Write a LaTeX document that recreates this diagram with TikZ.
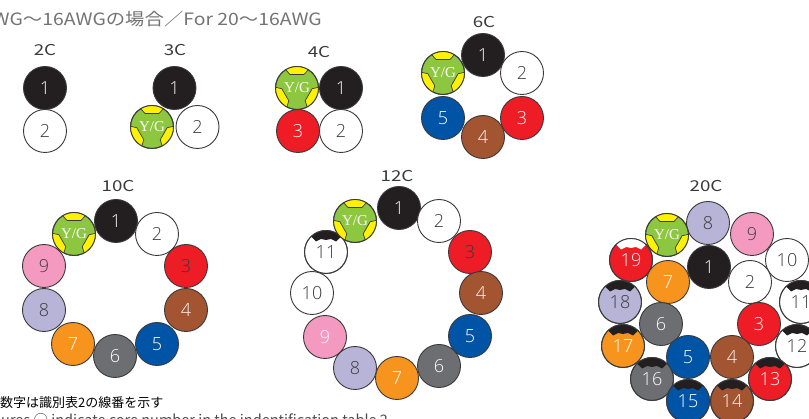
\documentclass[tikz,border=0pt]{standalone}
\usepackage{fontspec}
\setmainfont{Open Sans}
\newfontfamily\cjkfont{Noto Sans CJK JP}
\newfontfamily\headfont{Noto Sans CJK JP}[FakeStretch=1.25]
\newfontfamily\titlefont{Noto Sans CJK JP}[FakeStretch=1.14]
\newfontfamily\ygfont{Liberation Serif}
\newfontfamily\numfont{Open Sans Light}
\definecolor{cblack}{HTML}{231F20}
\definecolor{cred}{HTML}{EE1C25}
\definecolor{cblue}{HTML}{0054A6}
\definecolor{cbrown}{HTML}{A35430}
\definecolor{cgray}{HTML}{6D6E71}
\definecolor{corange}{HTML}{F7941D}
\definecolor{cviolet}{HTML}{B7B4D8}
\definecolor{cpink}{HTML}{F49AC1}
\definecolor{cgreen}{HTML}{8DC63F}
\definecolor{cyellow}{HTML}{FFF200}
\definecolor{cline}{HTML}{3A3A3C}
\tikzset{
  x=1pt,y=-1pt,
  corebody/.style={circle,draw=cline,line width=0.9pt,inner sep=0pt,minimum size=43pt},
  corenum/.style={inner sep=0pt,font=\numfont\fontsize{18}{18}\selectfont},
  yglabel/.style={inner sep=0pt,text=white,font=\ygfont\fontsize{15}{15}\selectfont},
  headlabel/.style={inner sep=0pt,text=cline,font=\headfont\fontsize{15}{15}\selectfont},
}
% name, x, y, fill, text colour, label
\newcommand{\core}[6]{%
  \node[corebody,fill=#4] (#1) at (#2,#3) {};
  \node[corenum,text=#5] at (#1) {#6};}
% name, x, y, fill, text colour, label, mark colour
\newcommand{\markedcore}[7]{%
  \node[corebody,fill=#4] (#1) at (#2,#3) {};
  \begin{scope}
    \clip (#1) circle (21.5);
    \begin{scope}[shift={(#1)}]
      \fill[#7] (-18,-24) -- (-16,-16.5) -- (-10,-10.5) -- (-5,-13) -- (0,-12) -- (5,-13) -- (10,-10.5) -- (16,-16.5) -- (18,-24) -- cycle;
    \end{scope}
  \end{scope}
  \draw[cline,line width=0.9pt] (#1) circle (21.5);
  \node[corenum,text=#5] at (#1) {#6};}
% name, x, y
\newcommand{\ygcore}[3]{%
  \node[corebody,fill=cgreen] (#1) at (#2,#3) {};
  \begin{scope}
    \clip (#1) circle (21.5);
    \foreach \ang in {0,120,240}{
      \begin{scope}[shift={(#1)},rotate=\ang]
        \filldraw[fill=cyellow,draw=cline,line width=0.7pt] (-13,-24) -- (-11.5,-18.5) -- (-7,-13.5) -- (7,-13.5) -- (11.5,-18.5) -- (13,-24) -- cycle;
      \end{scope}}
  \end{scope}
  \draw[cline,line width=0.9pt] (#1) circle (21.5);
  \node[yglabel] at (#1) {Y/G};}
\begin{document}
\begin{tikzpicture}
\useasboundingbox (0,0) rectangle (809,419);
\node[anchor=east,inner sep=0pt,text=black!55,font=\titlefont\fontsize{17}{17}\selectfont] (title) at (322,19) {AWG～16AWGの場合／For 20～16AWG};
% 2C
\node[headlabel] (h2) at (45,50) {2C};
\core{a1}{45}{88}{cblack}{white}{1}
\core{a2}{45}{131}{white}{cline}{2}
% 3C
\node[headlabel] (h3) at (175,50) {3C};
\core{b1}{174.5}{88}{cblack}{white}{1}
\ygcore{by}{152}{127}
\core{b2}{197.5}{127}{white}{cline}{2}
% 4C
\node[headlabel] (h4) at (319,52) {4C};
\ygcore{cy}{297}{88}
\core{c1}{341}{88}{cblack}{white}{1}
\core{c3}{298}{131}{cred}{white}{3}
\core{c2}{341}{131}{white}{cline}{2}
% 6C
\node[headlabel] (h6) at (484,22) {6C};
\core{d1}{483}{55}{cblack}{white}{1}
\core{d2}{522}{73}{white}{cline}{2}
\core{d3}{522}{118}{cred}{white}{3}
\core{d4}{483}{137}{cbrown}{white}{4}
\core{d5}{443}{118}{cblue}{white}{5}
\ygcore{dy}{443}{73}
% 10C
\node[headlabel] (h10) at (118,186) {10C};
\core{e1}{116}{221}{cblack}{white}{1}
\core{e2}{157}{234}{white}{cline}{2}
\core{e3}{186}{266}{cred}{cline}{3}
\core{e4}{186}{310}{cbrown}{white}{4}
\core{e5}{157}{344}{cblue}{white}{5}
\core{e6}{115}{356}{cgray}{white}{6}
\core{e7}{73}{344}{corange}{white}{7}
\core{e8}{44}{310}{cviolet}{cline}{8}
\core{e9}{44}{266}{cpink}{cline}{9}
\ygcore{ey}{74}{234}
% 12C
\node[headlabel] (h12) at (397,176) {12C};
\core{f1}{399}{208}{cblack}{white}{1}
\core{f2}{439}{221}{white}{cline}{2}
\core{f3}{470}{252}{cred}{cline}{3}
\core{f4}{481}{293}{cbrown}{white}{4}
\core{f5}{470}{336}{cblue}{white}{5}
\core{f6}{439}{366}{cgray}{white}{6}
\core{f7}{397}{378}{corange}{white}{7}
\core{f8}{355}{368}{cviolet}{cline}{8}
\core{f9}{325}{337}{cpink}{white}{9}
\core{f10}{312}{293}{white}{cline}{10}
\markedcore{f11}{326}{252}{white}{cline}{11}{cblack}
\ygcore{fy}{355}{221}
% 20C
\node[headlabel] (h20) at (706,186) {20C};
\core{g8}{708}{223}{cviolet}{cline}{8}
\core{g9}{752}{234}{cpink}{cline}{9}
\ygcore{gy}{667}{235}
\markedcore{g19}{631}{260}{cred}{white}{19}{white}
\core{g10}{787}{260}{white}{cline}{10}
\core{g1}{709}{267}{cblack}{white}{1}
\core{g2}{750}{282}{white}{cline}{2}
\core{g7}{668}{282}{corange}{white}{7}
\markedcore{g18}{620}{302}{cviolet}{cline}{18}{cblack}
\markedcore{g11}{801}{302}{white}{cline}{11}{cblack}
\core{g3}{759}{324}{cred}{white}{3}
\core{g6}{661}{324}{cgray}{white}{6}
\markedcore{g17}{623}{346}{corange}{white}{17}{cblack}
\markedcore{g12}{797}{346}{white}{cline}{12}{cblack}
\core{g5}{688}{357}{cblue}{white}{5}
\core{g4}{732}{357}{cbrown}{white}{4}
\markedcore{g16}{652}{379}{cgray}{white}{16}{cblack}
\markedcore{g13}{770}{379}{cred}{white}{13}{cblack}
\markedcore{g15}{688}{401}{cblue}{white}{15}{cblack}
\markedcore{g14}{732}{401}{cbrown}{white}{14}{cblack}
% notes
\node[anchor=west,inner sep=0pt,text=black,font=\cjkfont\fontsize{13}{13}\selectfont] (noteja) at (0,403) {数字は識別表2の線番を示す};
\node[anchor=base west,inner sep=0pt,text=black!70,font=\cjkfont\fontsize{14.5}{14.5}\selectfont] (noteen) at (1,426) {ures ○ indicate core number in the indentification table 2};
\end{tikzpicture}
\end{document}
